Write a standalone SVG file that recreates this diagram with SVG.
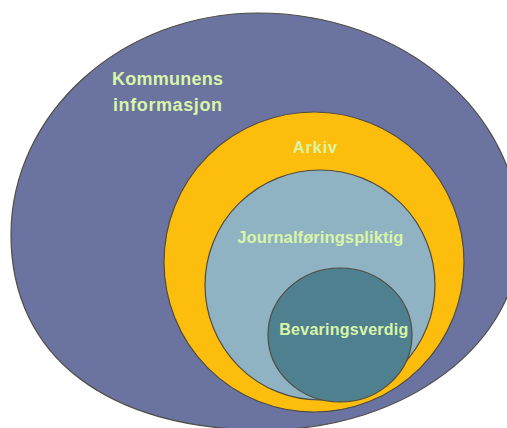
<svg xmlns="http://www.w3.org/2000/svg" width="507" height="428" viewBox="0 0 507 428">
  <style>
    .shape { stroke: #4f4c44; stroke-width: 1.2; }
    .outer { fill: #6b74a0; }
    .arkiv { fill: #fdbd0c; }
    .journal { fill: #8fb3c3; }
    .bevar { fill: #4f808f; }
    .lbl { font-family: "Liberation Sans", Arial, sans-serif; font-weight: bold; fill: #d9f5a8; text-anchor: middle; }
  </style>
  <rect x="0" y="0" width="507" height="428" fill="#ffffff"/>
  <g id="node-kommunens-informasjon">
    <path class="shape outer" d="M258,13 C403,13 520,113 520,236 C520,343 406,430 265,430 C107.5,430 11,356.5 11,235 C11,113 122,13 258,13 Z"/>
    <text class="lbl" x="167.5" y="84.5" font-size="18" textLength="111">Kommunens</text>
    <text class="lbl" x="167.5" y="110.5" font-size="18" textLength="109">informasjon</text>
  </g>
  <g id="node-arkiv">
    <circle class="shape arkiv" cx="314" cy="262" r="150"/>
    <text class="lbl" x="315" y="153" font-size="16" textLength="44">Arkiv</text>
  </g>
  <g id="node-journalforingspliktig">
    <circle class="shape journal" cx="320" cy="285" r="115"/>
    <text class="lbl" x="320.3" y="242.5" font-size="16.5" textLength="166">Journalføringspliktig</text>
  </g>
  <g id="node-bevaringsverdig">
    <ellipse class="shape bevar" cx="340" cy="335" rx="72" ry="67"/>
    <text class="lbl" x="343.8" y="335" font-size="16" textLength="129">Bevaringsverdig</text>
  </g>
  <g id="connectors"/>
</svg>
